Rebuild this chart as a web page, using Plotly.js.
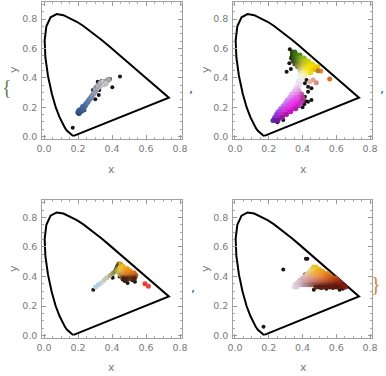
<!DOCTYPE html>
<html><head><meta charset="utf-8">
<script src="https://cdn.plot.ly/plotly-3.0.1.min.js"></script>
<style>html,body{margin:0;padding:0;background:#fff}#g{width:386px;height:376px}</style>
</head><body><div id="g"></div>
<script>
// CIE 1931 spectral locus (380..700 nm, 5 nm)
const locusX=[0.1741,0.1740,0.1738,0.1736,0.1733,0.1730,0.1726,0.1721,0.1714,0.1703,0.1689,0.1669,0.1644,0.1611,0.1566,0.1510,0.1440,0.1355,0.1241,0.1096,0.0913,0.0687,0.0454,0.0235,0.0082,0.0039,0.0139,0.0389,0.0743,0.1142,0.1547,0.1929,0.2296,0.2658,0.3016,0.3373,0.3731,0.4087,0.4441,0.4788,0.5125,0.5448,0.5752,0.6029,0.6270,0.6482,0.6658,0.6801,0.6915,0.7006,0.7079,0.7140,0.7190,0.7230,0.7260,0.7283,0.7300,0.7311,0.7320,0.7327,0.7334,0.7340,0.7344,0.7346,0.7347,0.1741];
const locusY=[0.0050,0.0050,0.0049,0.0049,0.0048,0.0048,0.0048,0.0048,0.0051,0.0058,0.0069,0.0086,0.0109,0.0138,0.0177,0.0227,0.0297,0.0399,0.0578,0.0868,0.1327,0.2007,0.2950,0.4127,0.5384,0.6548,0.7502,0.8120,0.8338,0.8262,0.8059,0.7816,0.7543,0.7243,0.6923,0.6589,0.6245,0.5896,0.5547,0.5202,0.4866,0.4544,0.4242,0.3965,0.3725,0.3514,0.3340,0.3197,0.3083,0.2993,0.2920,0.2859,0.2809,0.2770,0.2740,0.2717,0.2700,0.2689,0.2680,0.2673,0.2666,0.2660,0.2656,0.2654,0.2653,0.0050];

const tickVals=[0,0.2,0.4,0.6,0.8];

// Panel 1
const p1x=[0.200,0.206,0.212,0.205,0.215,0.222,0.225,0.232,0.235,0.242,0.228,0.245,0.252,0.258,0.263,0.270,0.276,0.282,0.290,0.296,0.303,0.310,0.300,0.318,0.326,0.334,0.342,0.350,0.358,0.366,0.374,0.382,0.330,0.345,0.315,0.355,0.365];
const p1y=[0.165,0.158,0.170,0.178,0.185,0.175,0.192,0.185,0.200,0.208,0.205,0.220,0.228,0.238,0.248,0.256,0.266,0.276,0.290,0.300,0.312,0.322,0.325,0.332,0.342,0.350,0.358,0.366,0.372,0.378,0.384,0.388,0.365,0.375,0.345,0.355,0.365];
const p1c=['#2a4a8a','#24447f','#2d5090','#30558f','#3a5f9a','#2f5595','#3d64a0','#3a60a0','#4268a8','#4670ad','#3f66a2','#4a75b0','#4f7ab5','#5580b8','#5a85bb','#6088bb','#6a8fbd','#7896c0','#8a9cb8','#98a6bc','#a5afc0','#b0b6c4','#9ea8b8','#c0c4cc','#d0d2d8','#e4e4e8','#f0f0f2','#f4f4f4','#e8e8ea','#d4d4d8','#c0c0c4','#a8a8ac','#b8bcc4','#c8c8cc','#a8b0bc','#d8d8dc','#c8c8cc'];
const k1x=[0.169,0.237,0.302,0.322,0.288,0.306,0.316,0.339,0.369,0.388,0.402,0.447,0.325];
const k1y=[0.061,0.179,0.254,0.283,0.317,0.336,0.374,0.379,0.381,0.392,0.336,0.410,0.317];

// Panel 2
const p2x=[0.340,0.355, 0.340,0.355,0.370,0.385, 0.335,0.350,0.365,0.380,0.395,0.410, 0.345,0.360,0.375,0.390,0.405,0.420,0.435, 0.355,0.370,0.385,0.400,0.415,0.430,0.445,0.460, 0.370,0.385,0.400,0.415,0.430,0.445,0.460,0.475,0.490, 0.385,0.400,0.415,0.430,0.445,0.460,0.475, 0.390,0.405,0.420,0.435,0.450, 0.385,0.400,0.415, 0.380,0.395, 0.375,0.390, 0.370,0.385,
 0.360,0.375, 0.350,0.365,0.380, 0.335,0.350,0.365,0.380,0.395, 0.325,0.340,0.355,0.370,0.385,0.400, 0.310,0.325,0.340,0.355,0.370,0.385,0.400, 0.300,0.315,0.330,0.345,0.360,0.375,0.390, 0.285,0.300,0.315,0.330,0.345,0.360,0.375, 0.270,0.285,0.300,0.315,0.330,0.345,0.360, 0.255,0.270,0.285,0.300,0.315,0.330, 0.245,0.260,0.275,0.290,0.305, 0.235,0.250,0.265,0.280, 0.225,0.240,0.255,
 0.561,0.508,0.492,0.463,0.482,0.443];
const p2y=[0.575,0.575, 0.555,0.555,0.555,0.555, 0.535,0.535,0.535,0.535,0.535,0.535, 0.515,0.515,0.515,0.515,0.515,0.515,0.515, 0.495,0.495,0.495,0.495,0.495,0.495,0.495,0.495, 0.475,0.475,0.475,0.475,0.475,0.475,0.475,0.475,0.475, 0.455,0.455,0.455,0.455,0.455,0.455,0.455, 0.435,0.435,0.435,0.435,0.435, 0.415,0.415,0.415, 0.395,0.395, 0.375,0.375, 0.355,0.355,
 0.330,0.330, 0.310,0.310,0.310, 0.290,0.290,0.290,0.290,0.290, 0.270,0.270,0.270,0.270,0.270,0.270, 0.250,0.250,0.250,0.250,0.250,0.250,0.250, 0.230,0.230,0.230,0.230,0.230,0.230,0.230, 0.210,0.210,0.210,0.210,0.210,0.210,0.210, 0.190,0.190,0.190,0.190,0.190,0.190,0.190, 0.170,0.170,0.170,0.170,0.170,0.170, 0.150,0.150,0.150,0.150,0.150, 0.130,0.130,0.130,0.130, 0.110,0.110,0.110,
 0.392,0.447,0.449,0.385,0.367,0.374];
const p2c=['#2a5010','#3a6a18', '#2a4a10','#3f7015','#4a7a18','#5a8a1a', '#203a10','#3a6015','#4a7518','#6a9a1a','#80aa18','#90b818', '#304a18','#4a6a20','#6a8a20','#8aaa20','#a8c020','#b8c818','#c8d010', '#505a28','#707a30','#909a30','#b0b828','#c8c820','#d8d010','#e0d808','#e8d800', '#8a8a50','#a8a848','#c8c040','#e0d020','#f0e010','#f4e000','#f8e000','#f0d000','#e8c800', '#c0c080','#d8d070','#f0e040','#f8e820','#f8e010','#f0d000','#e8c000', '#e0e0c0','#f0f0a0','#f8f070','#f8e840','#f0d828', '#f0f0e0','#f8f8d0','#f8f0b0', '#f4f4f0','#f0f0f0', '#e8e8f0','#f0e8f0', '#e8e0f0','#f0d8f0',
 '#f0d0f0','#e8c0e8', '#e8c0f0','#e8b0e8','#e0a0e0', '#e0b0f8','#e8a0f0','#e890e8','#e080e0','#c060b0', '#d8a0f8','#e090f0','#e870e8','#e860e8','#e050e0','#b04090', '#d090f8','#d880f0','#e060e8','#e850e8','#f040f0','#e040e0','#b03090', '#c880f8','#d070f0','#e050e8','#f040f0','#f030f0','#e030e0','#c030c0', '#c070f0','#c860f0','#d848e8','#e838e8','#f030f0','#e028e0','#c028c0', '#b060f0','#c050e8','#d040e0','#e030e0','#e828e8','#d020d0','#b020b0', '#a050e8','#b040e0','#c838e0','#d830d8','#d020d0','#c018c0', '#9040e0','#a838d8','#c030d0','#c020c8','#a818a8', '#8038d0','#9030c8','#a028c0','#901890', '#6028a8','#7020a8','#7818a0',
 '#e07020','#e08830','#c07830','#e0a090','#d89080','#e8b0a0'];
const k2x=[0.325,0.322,0.306,0.331,0.404,0.424,0.414,0.433,0.453,0.433,0.453,0.433,0.414,0.286,0.251,0.414,0.420,0.410,0.400];
const k2y=[0.594,0.499,0.442,0.460,0.408,0.385,0.363,0.340,0.329,0.306,0.249,0.238,0.272,0.113,0.098,0.431,0.240,0.220,0.200];

// Panel 3
const p3x=[0.304,0.320,0.335,0.353,0.369,0.388,0.404,0.418, 0.440,0.450, 0.435,0.450,0.465, 0.430,0.445,0.460,0.475,0.490, 0.430,0.445,0.460,0.475,0.490,0.505, 0.440,0.455,0.470,0.485,0.500,0.515,0.530, 0.450,0.465,0.480,0.495,0.510,0.525,0.540, 0.460,0.475,0.490,0.505,0.520,0.535, 0.470,0.490,0.510,0.530, 0.594,0.614];
const p3y=[0.330,0.345,0.357,0.375,0.391,0.407,0.420,0.436, 0.485,0.485, 0.470,0.470,0.470, 0.455,0.455,0.455,0.455,0.455, 0.440,0.440,0.440,0.440,0.440,0.440, 0.425,0.425,0.425,0.425,0.425,0.425,0.425, 0.410,0.410,0.410,0.410,0.410,0.410,0.410, 0.395,0.395,0.395,0.395,0.395,0.395, 0.385,0.385,0.385,0.385, 0.352,0.334];
const p3c=['#a8d0ea','#b0d0e0','#c0d0d8','#c8ccc0','#c8c4a8','#b8b088','#a09860','#808040', '#606018','#c8a020', '#505018','#e0b828','#e8b828', '#707030','#e8c030','#f0c028','#f0b020','#e8a820', '#b0a050','#e8c040','#f0b828','#f0a820','#e89820','#e89018', '#d0b060','#e0b040','#e8a030','#e89020','#e88818','#e08018','#d87818', '#c09048','#d09038','#d88028','#d87820','#d07018','#c86818','#c06018', '#8a5a30','#a05a28','#a85820','#a05018','#904818','#804018', '#402010','#502818','#603018','#4a2510', '#e84030','#f04040'];
const k3x=[0.290,0.463,0.492,0.535,0.404,0.425,0.430,0.445,0.520,0.475];
const k3y=[0.311,0.380,0.357,0.364,0.391,0.455,0.470,0.400,0.375,0.370];

// Panel 4
const p4x=[0.465,0.480, 0.455,0.470,0.485,0.500, 0.445,0.460,0.475,0.490,0.505,0.520, 0.430,0.445,0.460,0.475,0.490,0.505,0.520,0.535,0.550, 0.415,0.430,0.445,0.460,0.475,0.490,0.505,0.520,0.535,0.550,0.565, 0.400,0.415,0.430,0.445,0.460,0.475,0.490,0.505,0.520,0.535,0.550,0.565,0.580,0.595, 0.385,0.400,0.415,0.430,0.445,0.460,0.475,0.490,0.505,0.520,0.535,0.550,0.565,0.580,0.595,0.610, 0.370,0.385,0.400,0.415,0.430,0.445,0.460,0.475,0.490,0.505,0.520,0.535,0.550,0.565,0.580,0.595,0.610,0.625, 0.355,0.370,0.385,0.400,0.415,0.430,0.445,0.460,0.475,0.490,0.505,0.520,0.535,0.550,0.565,0.580,0.595,0.610,0.625,0.640, 0.350,0.365,0.480,0.500,0.520,0.540,0.560,0.580,0.600,0.620,0.640,0.655];
const p4y=[0.465,0.465, 0.450,0.450,0.450,0.450, 0.435,0.435,0.435,0.435,0.435,0.435, 0.420,0.420,0.420,0.420,0.420,0.420,0.420,0.420,0.420, 0.405,0.405,0.405,0.405,0.405,0.405,0.405,0.405,0.405,0.405,0.405, 0.390,0.390,0.390,0.390,0.390,0.390,0.390,0.390,0.390,0.390,0.390,0.390,0.390,0.390, 0.375,0.375,0.375,0.375,0.375,0.375,0.375,0.375,0.375,0.375,0.375,0.375,0.375,0.375,0.375,0.375, 0.360,0.360,0.360,0.360,0.360,0.360,0.360,0.360,0.360,0.360,0.360,0.360,0.360,0.360,0.360,0.360,0.360,0.360, 0.345,0.345,0.345,0.345,0.345,0.345,0.345,0.345,0.345,0.345,0.345,0.345,0.345,0.345,0.345,0.345,0.345,0.345,0.345,0.345, 0.330,0.330,0.330,0.330,0.330,0.330,0.330,0.330,0.330,0.330,0.330,0.330];
const p4c=['#e8c040','#f0c020', '#e8c860','#f0c830','#f0c020','#f0b820', '#e8d080','#f0d060','#f0c030','#f0b028','#f0a820','#e8a020', '#e0c8a0','#e8c880','#f0c050','#f0b040','#f0a830','#f0a028','#f09828','#e89020','#e08820', '#e0c0b0','#e8c0a0','#e8b880','#e8b060','#e8a850','#f0a040','#f09838','#f09030','#e88028','#e07820','#d87020', '#d8b8b8','#e0b8b0','#e0b0a0','#e0a890','#e0a080','#e09870','#e89060','#e88850','#e08040','#e07830','#d86828','#d06020','#c85820','#c05018', '#d8b8c0','#d8b0b8','#d8a8a8','#d8a098','#d89888','#d89078','#d88868','#d88058','#d87848','#d07038','#d06830','#c86028','#c05020','#b84818','#b04018','#a83818', '#e0c8d0','#d8c0c8','#d0b0b8','#c8a0a8','#c89898','#c88888','#c88078','#c87868','#c07058','#c06848','#b86040','#b85838','#b05030','#a84828','#a04020','#a03818','#983018','#902818', '#e0d0e0','#d8c0d0','#d0b8c8','#c8a8b8','#b89098','#b08080','#a87070','#a06060','#985848','#985040','#904838','#904030','#883828','#883020','#802818','#802818','#782010','#802010','#882010','#801810', '#e8d8e8','#d8c8d8','#602818','#502010','#582010','#602010','#581810','#601810','#581810','#601808','#701810','#801810'];
const k4x=[0.169,0.286,0.420,0.429,0.414,0.467,0.541,0.620,0.580,0.512,0.639];
const k4y=[0.061,0.448,0.520,0.520,0.414,0.311,0.318,0.311,0.323,0.323,0.318];

const panels=[[p1x,p1y,p1c,k1x,k1y],[p2x,p2y,p2c,k2x,k2y],[p3x,p3y,p3c,k3x,k3y],[p4x,p4y,p4c,k4x,k4y]];
const traces=[];
panels.forEach((p,i)=>{
  const ax=i===0?'':String(i+1);
  traces.push({x:locusX,y:locusY,mode:'lines',line:{color:'#000',width:2},xaxis:'x'+ax,yaxis:'y'+ax,hoverinfo:'skip'});
  traces.push({x:p[3],y:p[4],mode:'markers',marker:{color:'#1a1414',size:4},xaxis:'x'+ax,yaxis:'y'+ax});
  const mk={color:p[2],size:5};
  if(i===0){mk.line={color:'rgba(90,90,100,0.45)',width:0.6};}
  traces.push({x:p[0],y:p[1],mode:'markers',marker:mk,xaxis:'x'+ax,yaxis:'y'+ax});
});

const W=386,H=376;
const font={family:'DejaVu Sans',size:9.5,color:'#7a7a7a'};
function xa(dom,anchor){return {domain:dom,anchor:anchor,range:[-0.010,0.81],tickvals:tickVals,tickformat:'.1f',ticks:'inside',ticklen:4,tickcolor:'#999',mirror:'allticks',showline:true,linecolor:'#a0a0a0',linewidth:1,showgrid:false,zeroline:false,tickfont:font,minor:{dtick:0.05,tick0:0,ticks:'inside',ticklen:2,tickcolor:'#aaa',showgrid:false}};}
function ya(dom,anchor){return {domain:dom,anchor:anchor,range:[-0.018,0.918],tickvals:tickVals,tickformat:'.1f',ticks:'inside',ticklen:4,tickcolor:'#999',mirror:'allticks',showline:true,linecolor:'#a0a0a0',linewidth:1,showgrid:false,zeroline:false,tickfont:font,ticklabelstandoff:2,minor:{dtick:0.05,tick0:0,ticks:'inside',ticklen:2,tickcolor:'#aaa',showgrid:false}};}
const xL=[42.3/W,181.7/W], xR=[233.3/W,371.7/W];
const yT=[1-139.3/H,1-1.7/H], yB=[1-338.3/H,1-200/H];
function ann(text,px,py,opts){return Object.assign({text:text,x:px/W,y:1-py/H,xref:'paper',yref:'paper',showarrow:false,xanchor:'center',yanchor:'middle',font:{family:'DejaVu Sans',size:11,color:'#7a7a7a'}},opts||{});}
const annotations=[
  ann('x',112,169),ann('x',303,169),ann('x',112,367),ann('x',303,367),
  ann('y',13,70,{textangle:-90}),ann('y',205,70,{textangle:-90}),ann('y',13,269,{textangle:-90}),ann('y',205,269,{textangle:-90}),
  ann('{',7,87,{font:{family:'Liberation Serif',size:20,color:'#6f7a50'}}),
  ann(',',191,89,{font:{family:'DejaVu Sans',size:13,color:'#1a4f9a'}}),
  ann(',',382,88,{font:{family:'DejaVu Sans',size:13,color:'#1a4f9a'}}),
  ann(',',193,287,{font:{family:'DejaVu Sans',size:13,color:'#1a4f9a'}}),
  ann('}',376,284,{font:{family:'Liberation Serif',size:20,color:'#c88040'}})
];
const layout={width:W,height:H,margin:{l:0,r:0,t:0,b:0},showlegend:false,paper_bgcolor:'#fff',plot_bgcolor:'#fff',
  xaxis:xa(xL,'y'),yaxis:ya(yT,'x'),
  xaxis2:xa(xR,'y2'),yaxis2:ya(yT,'x2'),
  xaxis3:xa(xL,'y3'),yaxis3:ya(yB,'x3'),
  xaxis4:xa(xR,'y4'),yaxis4:ya(yB,'x4'),
  annotations:annotations};
Plotly.newPlot('g',traces,layout,{displayModeBar:false,staticPlot:true});
</script></body></html>
